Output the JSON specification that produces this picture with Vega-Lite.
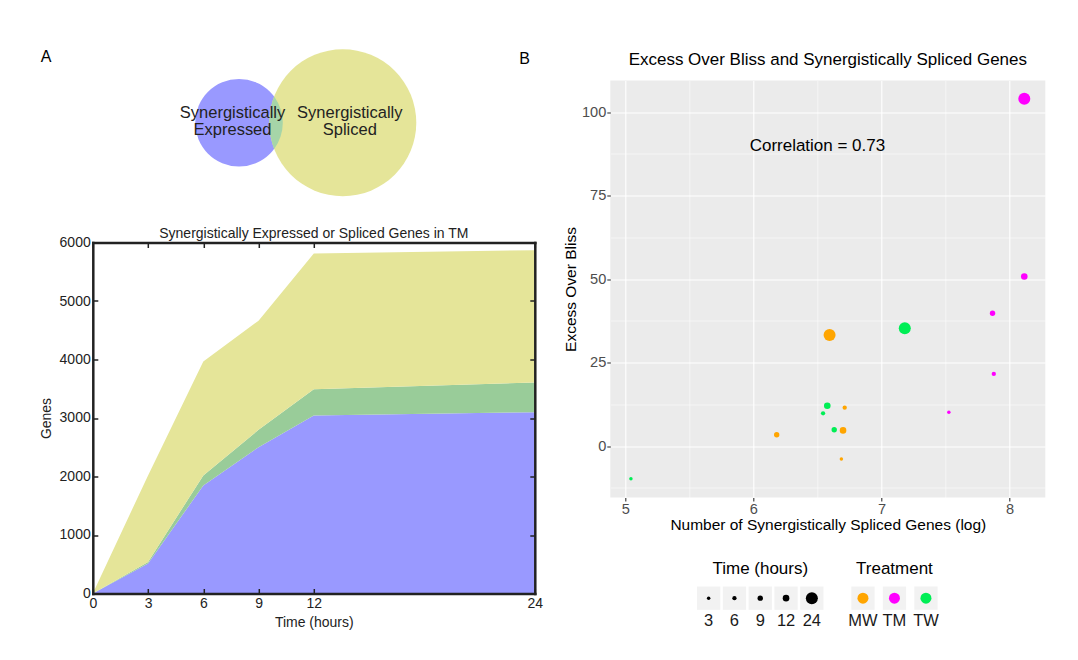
{
  "$schema": "https://vega.github.io/schema/vega-lite/v6.json",
  "background": "white",
  "padding": {"left": 38.8, "top": 48.5, "right": 5, "bottom": 5},
  "config": {
    "font": "Liberation Sans",
    "view": {"stroke": null},
    "title": {"fontWeight": "normal", "color": "#000", "font": "Liberation Sans"},
    "axis": {"labelFont": "Liberation Sans", "titleFont": "Liberation Sans", "titleFontWeight": "normal"}
  },
  "datasets": {
    "venn": [
      {"set": "Synergistically Expressed", "x": 33.08, "y": 63.5, "label": "Synergistically\nExpressed", "lx": 31.61, "ly": 72.0},
      {"set": "Synergistically Spliced", "x": 56.56, "y": 63.5, "label": "Synergistically\nSpliced", "lx": 58.14, "ly": 72.0},
      {"set": "Both", "x": 41.02, "y": 63.5}
    ],
    "area": [
      {"time": 0, "set": "Expressed", "genes": 0},
      {"time": 3, "set": "Expressed", "genes": 512},
      {"time": 6, "set": "Expressed", "genes": 1848},
      {"time": 9, "set": "Expressed", "genes": 2502},
      {"time": 12, "set": "Expressed", "genes": 3043},
      {"time": 24, "set": "Expressed", "genes": 3100},
      {"time": 0, "set": "Expressed and Spliced", "genes": 0},
      {"time": 3, "set": "Expressed and Spliced", "genes": 28},
      {"time": 6, "set": "Expressed and Spliced", "genes": 171},
      {"time": 9, "set": "Expressed and Spliced", "genes": 296},
      {"time": 12, "set": "Expressed and Spliced", "genes": 449},
      {"time": 24, "set": "Expressed and Spliced", "genes": 506},
      {"time": 0, "set": "Spliced", "genes": 0},
      {"time": 3, "set": "Spliced", "genes": 1479},
      {"time": 6, "set": "Spliced", "genes": 1945},
      {"time": 9, "set": "Spliced", "genes": 1865},
      {"time": 12, "set": "Spliced", "genes": 2320},
      {"time": 24, "set": "Spliced", "genes": 2263}
    ],
    "scatter": [
      {"treatment": "MW", "time": 24, "log_spliced_genes": 6.595, "excess_over_bliss": 33.3},
      {"treatment": "MW", "time": 6, "log_spliced_genes": 6.713, "excess_over_bliss": 11.5},
      {"treatment": "MW", "time": 12, "log_spliced_genes": 6.70, "excess_over_bliss": 4.7},
      {"treatment": "MW", "time": 9, "log_spliced_genes": 6.182, "excess_over_bliss": 3.4},
      {"treatment": "MW", "time": 3, "log_spliced_genes": 6.687, "excess_over_bliss": -3.9},
      {"treatment": "TM", "time": 24, "log_spliced_genes": 8.115, "excess_over_bliss": 104.0},
      {"treatment": "TM", "time": 12, "log_spliced_genes": 8.115, "excess_over_bliss": 50.8},
      {"treatment": "TM", "time": 9, "log_spliced_genes": 7.867, "excess_over_bliss": 39.8},
      {"treatment": "TM", "time": 6, "log_spliced_genes": 7.877, "excess_over_bliss": 21.6},
      {"treatment": "TM", "time": 3, "log_spliced_genes": 7.526, "excess_over_bliss": 10.1},
      {"treatment": "TW", "time": 24, "log_spliced_genes": 7.182, "excess_over_bliss": 35.3},
      {"treatment": "TW", "time": 12, "log_spliced_genes": 6.577, "excess_over_bliss": 12.1},
      {"treatment": "TW", "time": 6, "log_spliced_genes": 6.544, "excess_over_bliss": 9.8},
      {"treatment": "TW", "time": 9, "log_spliced_genes": 6.631, "excess_over_bliss": 4.9},
      {"treatment": "TW", "time": 3, "log_spliced_genes": 5.044, "excess_over_bliss": -9.8}
    ],
    "annotation": [
      {"log_spliced_genes": 6.5, "excess_over_bliss": 90, "label": "Correlation = 0.73"}
    ],
    "timeKeys": [{"time": 3}, {"time": 6}, {"time": 9}, {"time": 12}, {"time": 24}],
    "treatKeys": [{"treatment": "MW"}, {"treatment": "TM"}, {"treatment": "TW"}]
  },
  "resolve": {"scale": {"color": "independent", "size": "independent"}},
  "spacing": -23.5,
  "hconcat": [
    {
      "spacing": 30,
      "resolve": {"scale": {"color": "independent"}},
      "vconcat": [
        {
          "title": {"text": "A", "orient": "left", "anchor": "end", "angle": 0, "fontSize": 16, "align": "right", "baseline": "top", "offset": 30.6, "frame": "bounds"},
          "width": 442,
          "height": 115.7,
          "data": {"name": "venn"},
          "encoding": {
            "x": {"field": "x", "type": "quantitative", "scale": {"domain": [0, 100]}, "axis": null},
            "y": {"field": "y", "type": "quantitative", "scale": {"domain": [0, 100]}, "axis": null}
          },
          "layer": [
            {
              "transform": [{"filter": "datum.set === 'Synergistically Expressed'"}],
              "mark": {"type": "point", "filled": true, "opacity": 1, "color": "#9999ff", "size": 7674}
            },
            {
              "transform": [{"filter": "datum.set === 'Synergistically Spliced'"}],
              "mark": {"type": "point", "filled": true, "opacity": 1, "color": "#e5e599", "size": 21609}
            },
            {
              "transform": [{"filter": "datum.set === 'Both'"}],
              "mark": {"type": "point", "filled": true, "opacity": 1, "color": "#a6d5a8", "size": 2746,
                "shape": "M0,-1L0.143,-0.772L0.247,-0.526L0.31,-0.267L0.332,0L0.31,0.267L0.247,0.526L0.143,0.772L0,1L-0.078,0.759L-0.136,0.509L-0.172,0.254L-0.183,0L-0.172,-0.254L-0.136,-0.509L-0.078,-0.759Z"}
            },
            {
              "transform": [{"filter": "datum.set !== 'Both'"}],
              "mark": {"type": "text", "fontSize": 16.5, "lineBreak": "\n", "lineHeight": 17.6, "color": "#222", "baseline": "middle"},
              "encoding": {
                "x": {"field": "lx", "type": "quantitative"},
                "y": {"field": "ly", "type": "quantitative"},
                "text": {"field": "label"}
              }
            }
          ]
        },
        {
          "title": {"text": "Synergistically Expressed or Spliced Genes in TM", "fontSize": 14, "color": "#222", "offset": -5.3},
          "width": 442,
          "height": 351,
          "data": {"name": "area"},
          "layer": [
            {
              "mark": {"type": "area", "opacity": 1},
              "encoding": {
                "x": {"field": "time", "type": "quantitative", "scale": {"domain": [0, 24], "nice": false},
                  "axis": {"values": [0, 3, 6, 9, 12, 24], "format": "d", "title": "Time (hours)", "tickSize": -5, "tickWidth": 1.5, "tickColor": "#222",
                    "domainColor": "#222", "domainWidth": 2.5, "domainCap": "square", "labelFontSize": 14, "labelColor": "#222",
                    "labelPadding": 7.7, "titleFontSize": 14, "titleColor": "#222", "titlePadding": 5.7, "grid": false, "zindex": 1,
                    "labelFlush": false, "labelOverlap": false}},
                "y": {"field": "genes", "type": "quantitative", "stack": "zero", "scale": {"domain": [0, 6000], "nice": false},
                  "axis": {"values": [0, 1000, 2000, 3000, 4000, 5000, 6000], "format": "d", "title": "Genes", "tickSize": -5, "tickWidth": 1.5, "tickColor": "#222",
                    "domainColor": "#222", "domainWidth": 2.5, "domainCap": "square", "labelFontSize": 14, "labelColor": "#222",
                    "labelPadding": 7.6, "titleFontSize": 14, "titleColor": "#222", "titlePadding": 5.7, "grid": false, "zindex": 1,
                    "labelFlush": false, "labelOverlap": false}},
                "color": {"field": "set", "type": "nominal",
                  "scale": {"domain": ["Expressed", "Expressed and Spliced", "Spliced"], "range": ["#9999ff", "#99cc99", "#e5e599"]},
                  "legend": null},
                "order": {"field": "set", "type": "ordinal", "sort": "ascending"}
              }
            },
            {
              "mark": {"type": "point", "opacity": 0},
              "encoding": {
                "x": {"field": "time", "type": "quantitative", "scale": {"domain": [0, 24], "nice": false},
                  "axis": {"orient": "top", "values": [0, 3, 6, 9, 12, 24], "labels": false, "title": null, "tickSize": -5, "tickWidth": 1.5,
                    "tickColor": "#222", "domainColor": "#222", "domainWidth": 2.5, "domainCap": "square", "grid": false, "zindex": 1}},
                "y": {"field": "genes", "type": "quantitative", "scale": {"domain": [0, 6000], "nice": false},
                  "axis": {"orient": "right", "values": [0, 1000, 2000, 3000, 4000, 5000, 6000], "labels": false, "title": null, "tickSize": -5,
                    "tickWidth": 1.5, "tickColor": "#222", "domainColor": "#222", "domainWidth": 2.5, "domainCap": "square", "grid": false, "zindex": 1}}
              }
            }
          ],
          "resolve": {"axis": {"x": "independent", "y": "independent"}}
        }
      ]
    },
    {
      "title": {"text": "B", "orient": "left", "anchor": "end", "angle": 0, "fontSize": 16, "align": "right", "baseline": "top", "offset": 22.8, "frame": "bounds"},
      "spacing": 27,
      "vconcat": [
        {
          "title": {"text": "Excess Over Bliss and Synergistically Spliced Genes", "fontSize": 17, "offset": 12, "color": "#000"},
          "width": 435,
          "height": 417,
          "view": {"fill": "#ebebeb", "stroke": null},
          "layer": [
            {
              "data": {"name": "scatter"},
              "mark": {"type": "point", "filled": true, "opacity": 1},
              "encoding": {
                "x": {"field": "log_spliced_genes", "type": "quantitative", "title": "Number of Synergistically Spliced Genes (log)",
                  "scale": {"domain": [4.883, 8.279], "nice": false, "zero": false},
                  "axis": {"values": [5, 5.5, 6, 6.5, 7, 7.5, 8], "labelExpr": "datum.value % 1 === 0 ? format(datum.value, 'd') : ''",
                    "gridColor": "#ffffff", "gridWidth": {"condition": {"test": "datum.value % 1 === 0", "value": 1.1}, "value": 0.55},
                    "tickColor": {"condition": {"test": "datum.value % 1 === 0", "value": "#333333"}, "value": "transparent"},
                    "tickSize": 3.5, "tickWidth": 1.1, "domain": false, "labelFontSize": 14.6, "labelColor": "#4d4d4d", "labelPadding": 1,
                    "titleFontSize": 15.5, "titleColor": "#000", "titlePadding": 1, "labelFlush": false, "labelOverlap": false}},
                "y": {"field": "excess_over_bliss", "type": "quantitative", "title": "Excess Over Bliss",
                  "scale": {"domain": [-15.4, 109.5], "nice": false, "zero": false},
                  "axis": {"values": [-12.5, 0, 12.5, 25, 37.5, 50, 62.5, 75, 87.5, 100], "labelExpr": "datum.value % 25 === 0 ? format(datum.value, 'd') : ''",
                    "gridColor": "#ffffff", "gridWidth": {"condition": {"test": "datum.value % 25 === 0", "value": 1.1}, "value": 0.55},
                    "tickColor": {"condition": {"test": "datum.value % 25 === 0", "value": "#333333"}, "value": "transparent"},
                    "tickSize": 3.5, "tickWidth": 1.1, "domain": false, "labelFontSize": 14.6, "labelColor": "#4d4d4d", "labelPadding": 1,
                    "titleFontSize": 15.5, "titleColor": "#000", "titlePadding": 3, "labelFlush": false, "labelOverlap": false}},
                "color": {"field": "treatment", "type": "nominal",
                  "scale": {"domain": ["MW", "TM", "TW"], "range": ["#ffa500", "#ff00ff", "#00ee55"]}, "legend": null},
                "size": {"field": "time", "type": "quantitative",
                  "scale": {"type": "pow", "exponent": 2, "domain": [3, 24], "range": [12.25, 144]}, "legend": null}
              }
            },
            {
              "data": {"name": "annotation"},
              "mark": {"type": "text", "fontSize": 17, "color": "#000"},
              "encoding": {
                "x": {"field": "log_spliced_genes", "type": "quantitative"},
                "y": {"field": "excess_over_bliss", "type": "quantitative"},
                "text": {"field": "label"}
              }
            }
          ]
        },
        {
          "spacing": 23,
          "hconcat": [
            {
              "title": {"text": "Time (hours)", "fontSize": 17, "offset": 8, "dx": 43.4, "color": "#000"},
              "width": 213.2,
              "height": 23.3,
              "data": {"name": "timeKeys"},
              "encoding": {
                "x": {"field": "time", "type": "ordinal", "axis": null,
                  "scale": {"type": "band", "paddingInner": 0.097, "paddingOuter": 0, "range": [86.7, 213.2]}}
              },
              "layer": [
                {"mark": {"type": "rect", "color": "#f2f2f2"}},
                {"mark": {"type": "point", "filled": true, "opacity": 1, "color": "#000"},
                  "encoding": {"size": {"field": "time", "type": "quantitative",
                    "scale": {"type": "pow", "exponent": 2, "domain": [3, 24], "range": [12.25, 144]}, "legend": null}}},
                {"mark": {"type": "text", "dy": 23.3, "fontSize": 16.5, "color": "#1a1a1a", "baseline": "middle"},
                  "encoding": {"text": {"field": "time"}}}
              ]
            },
            {
              "title": {"text": "Treatment", "fontSize": 17, "offset": 8, "color": "#000"},
              "width": 86.3,
              "height": 23.3,
              "data": {"name": "treatKeys"},
              "encoding": {
                "x": {"field": "treatment", "type": "nominal", "axis": null,
                  "scale": {"type": "band", "paddingInner": 0.26, "paddingOuter": 0}}
              },
              "layer": [
                {"mark": {"type": "rect", "color": "#f2f2f2"}},
                {"mark": {"type": "point", "filled": true, "opacity": 1, "size": 121},
                  "encoding": {"color": {"field": "treatment", "type": "nominal",
                    "scale": {"domain": ["MW", "TM", "TW"], "range": ["#ffa500", "#ff00ff", "#00ee55"]}, "legend": null}}},
                {"mark": {"type": "text", "dy": 23.3, "fontSize": 16.5, "color": "#1a1a1a", "baseline": "middle"},
                  "encoding": {"text": {"field": "treatment"}}}
              ]
            }
          ]
        }
      ]
    }
  ]
}
